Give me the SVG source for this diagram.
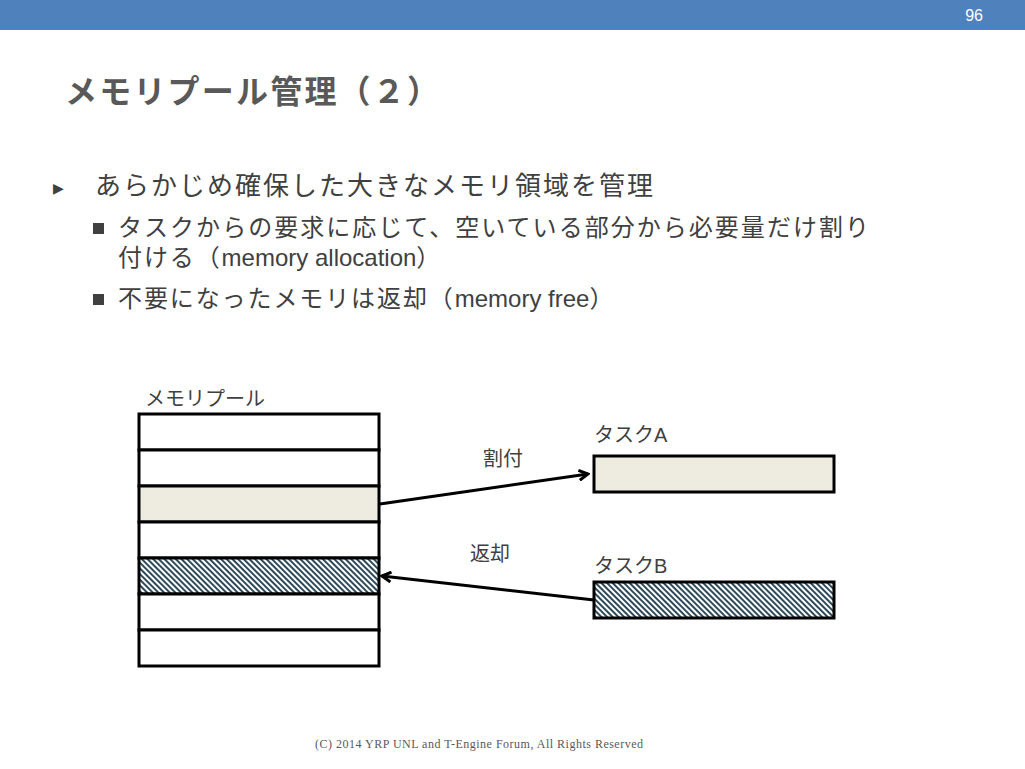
<svg xmlns="http://www.w3.org/2000/svg" width="1025" height="769" viewBox="0 0 1025 769">
<defs>
<style>
.jp{font-family:"Liberation Sans","Noto Sans CJK JP",sans-serif;fill:#404040}
.cj{letter-spacing:1.9px}
.box{stroke:#000;stroke-width:3}
.cell{fill:#fff;stroke:#000;stroke-width:3}
.conn{stroke:#000;stroke-width:3;fill:none}
</style>
<pattern id="hatch" patternUnits="userSpaceOnUse" width="4" height="4" patternTransform="rotate(-45)">
<rect width="4" height="4" fill="#fff"/>
<rect width="2" height="4" fill="#2e4a5a"/>
</pattern>
<marker id="arr" markerWidth="12" markerHeight="12" refX="10" refY="6" orient="auto-start-reverse" markerUnits="userSpaceOnUse">
<path d="M1,1 L10,6 L1,11" fill="none" stroke="#000" stroke-width="3"/>
</marker>
</defs>
<rect x="0" y="0" width="1025" height="30" fill="#4f81bd"/>
<text x="983" y="21" font-family="Liberation Sans,sans-serif" font-size="16" fill="#fff" text-anchor="end">96</text>
<text x="65" y="103" class="jp" font-size="32" font-weight="bold" style="fill:#595959" textLength="374" lengthAdjust="spacing">メモリプール管理（２）</text>
<text x="53" y="193" font-family="Liberation Sans,sans-serif" font-size="14" fill="#404040">▶</text>
<text x="95" y="195" class="jp" font-size="26" textLength="558" lengthAdjust="spacing">あらかじめ確保した大きなメモリ領域を管理</text>
<rect x="93" y="223" width="11" height="11" fill="#404040"/>
<text x="118" y="236" class="jp" font-size="24" textLength="751" lengthAdjust="spacing">タスクからの要求に応じて、空いている部分から必要量だけ割り</text>
<text x="118" y="266" class="jp" font-size="24"><tspan class="cj">付ける（</tspan><tspan>memory allocation</tspan><tspan class="cj">）</tspan></text>
<rect x="93" y="294" width="11" height="11" fill="#404040"/>
<text x="118" y="307" class="jp" font-size="24"><tspan class="cj">不要になったメモリは返却（</tspan><tspan>memory free</tspan><tspan class="cj">）</tspan></text>
<g id="pool">
<text x="145" y="406" class="jp" font-size="20">メモリプール</text>
<rect class="cell" x="139" y="414" width="240" height="36"/>
<rect class="cell" x="139" y="450" width="240" height="36"/>
<rect class="cell" x="139" y="486" width="240" height="36" style="fill:#eeece1"/>
<rect class="cell" x="139" y="522" width="240" height="36"/>
<rect class="cell" x="139" y="558" width="240" height="36" style="fill:url(#hatch)"/>
<rect class="cell" x="139" y="594" width="240" height="36"/>
<rect class="cell" x="139" y="630" width="240" height="36"/>
</g>
<g id="taskA">
<text x="594" y="442" class="jp" font-size="20">タスクA</text>
<rect class="box" x="594" y="456" width="240" height="36" fill="#eeece1"/>
</g>
<g id="taskB">
<text x="594" y="573" class="jp" font-size="20">タスクB</text>
<rect class="box" x="594" y="582" width="240" height="36" fill="url(#hatch)"/>
</g>
<g id="connectors">
<line class="conn" x1="380" y1="504" x2="588" y2="474" marker-end="url(#arr)"/>
<line class="conn" x1="594" y1="600" x2="382" y2="576" marker-end="url(#arr)"/>
<text x="483" y="466" class="jp" font-size="20">割付</text>
<text x="470" y="561" class="jp" font-size="20">返却</text>
</g>
<text x="315" y="748" font-family="Liberation Serif,serif" font-size="12" fill="#595959" textLength="328" lengthAdjust="spacing">(C) 2014 YRP UNL and T-Engine Forum, All Rights Reserved</text>
</svg>
